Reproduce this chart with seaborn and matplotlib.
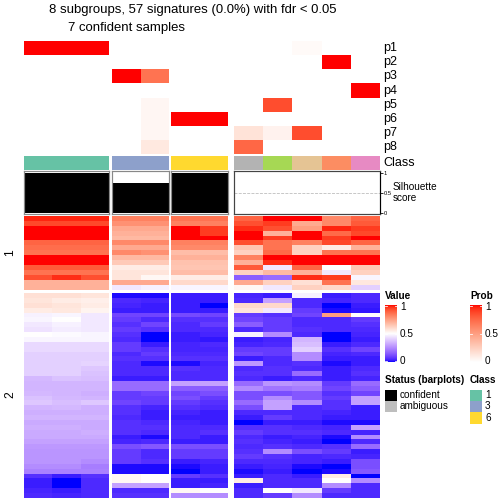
import numpy as np
import matplotlib
matplotlib.use('Agg')
import matplotlib.pyplot as plt
from matplotlib.colors import ListedColormap
import seaborn as sns

plt.rcParams['font.family'] = ['Liberation Sans', 'DejaVu Sans']

# ---- data ----
col_class = ['1', '1', '1', '3', '3', '6', '6', '8', '5', '7', '2', '4']
col_status = ['confident'] * 7 + ['ambiguous'] * 5
silhouette = [1.0, 1.0, 1.0, 0.75, 0.75, 1.0, 1.0, 0.0, 0.0, 0.0, 0.0, 0.0]
prob_labels = ['p1', 'p2', 'p3', 'p4', 'p5', 'p6', 'p7', 'p8']
prob = [
    [1, 1, 1, 0, 0, 0, 0, 0, 0, 0.03, 0, 0],
    [0, 0, 0, 0, 0, 0, 0, 0, 0, 0, 1, 0],
    [0, 0, 0, 1, 0.7, 0, 0, 0, 0, 0, 0, 0],
    [0, 0, 0, 0, 0, 0, 0, 0, 0, 0, 0, 1],
    [0, 0, 0, 0, 0.05, 0, 0, 0, 0.85, 0, 0, 0],
    [0, 0, 0, 0, 0.05, 1, 1, 0, 0, 0, 0, 0],
    [0, 0, 0, 0, 0.05, 0, 0, 0.15, 0.07, 0.85, 0, 0],
    [0, 0, 0, 0, 0.12, 0, 0, 0.75, 0, 0, 0, 0],
]
sig_group1 = [
    [0.98, 0.98, 0.98, 0.82, 0.82, 0.85, 0.85, 0.88, 1.00, 1.00, 0.80, 0.88],
    [0.93, 0.93, 0.93, 0.78, 0.78, 0.82, 0.82, 0.92, 0.95, 0.72, 0.80, 0.90],
    [1.00, 1.00, 1.00, 0.72, 0.72, 1.00, 0.95, 0.97, 0.92, 0.75, 0.98, 0.95],
    [1.00, 1.00, 1.00, 0.70, 0.70, 1.00, 0.95, 1.00, 0.70, 1.00, 0.87, 0.93],
    [1.00, 1.00, 1.00, 0.68, 0.68, 1.00, 1.00, 1.00, 0.95, 1.00, 0.95, 1.00],
    [0.88, 0.88, 0.88, 0.80, 0.80, 0.82, 0.82, 0.92, 0.85, 0.82, 0.93, 0.88],
    [0.86, 0.86, 0.86, 0.72, 0.72, 0.80, 0.80, 0.65, 0.85, 0.62, 0.55, 0.70],
    [0.85, 0.85, 0.85, 0.80, 0.78, 0.67, 0.67, 0.62, 0.87, 0.62, 0.85, 0.85],
    [1.00, 1.00, 1.00, 0.68, 0.68, 0.70, 0.70, 0.82, 1.00, 1.00, 1.00, 1.00],
    [1.00, 1.00, 1.00, 0.64, 0.64, 0.66, 0.66, 0.70, 0.97, 1.00, 1.00, 1.00],
    [0.90, 0.90, 0.90, 0.55, 0.55, 0.65, 0.65, 0.90, 0.45, 0.88, 0.50, 0.65],
    [0.85, 0.85, 0.85, 0.57, 0.57, 0.67, 0.67, 0.62, 0.68, 0.70, 0.45, 0.62],
    [0.92, 0.97, 0.92, 0.57, 0.52, 0.55, 0.55, 0.15, 0.18, 0.97, 0.95, 0.48],
    [0.70, 0.70, 0.70, 0.72, 0.72, 0.60, 0.60, 0.72, 0.62, 0.58, 0.85, 0.56],
    [0.70, 0.70, 0.70, 0.45, 0.47, 0.48, 0.48, 0.52, 0.45, 0.62, 0.60, 0.40],
]
sig_group2 = [
    [0.58, 0.58, 0.57, 0.01, 0.01, 0.03, 0.03, 0.04, 0.03, 0.47, 0.03, 0.05],
    [0.57, 0.55, 0.54, 0.05, 0.04, 0.03, 0.03, 0.05, 0.30, 0.05, 0.04, 0.05],
    [0.58, 0.57, 0.55, 0.04, 0.03, 0.03, 0.00, 0.60, 0.60, 0.05, 0.00, 0.03],
    [0.55, 0.56, 0.53, 0.03, 0.03, 0.03, 0.03, 0.57, 0.45, 0.08, 0.01, 0.02],
    [0.47, 0.48, 0.45, 0.10, 0.10, 0.11, 0.10, 0.08, 0.06, 0.10, 0.75, 0.50],
    [0.48, 0.50, 0.45, 0.08, 0.05, 0.06, 0.06, 0.10, 0.08, 0.05, 0.05, 0.08],
    [0.45, 0.47, 0.45, 0.06, 0.10, 0.05, 0.08, 0.15, 0.08, 0.05, 0.05, 0.06],
    [0.44, 0.46, 0.45, 0.08, 0.06, 0.05, 0.05, 0.05, 0.08, 0.06, 0.05, 0.05],
    [0.50, 0.49, 0.48, 0.06, 0.00, 0.03, 0.04, 0.47, 0.25, 0.05, 0.00, 0.04],
    [0.48, 0.48, 0.48, 0.05, 0.00, 0.03, 0.02, 0.03, 0.04, 0.34, 0.00, 0.03],
    [0.42, 0.42, 0.42, 0.08, 0.03, 0.04, 0.05, 0.04, 0.05, 0.36, 0.03, 0.05],
    [0.42, 0.42, 0.42, 0.08, 0.06, 0.04, 0.04, 0.08, 0.08, 0.40, 0.06, 0.10],
    [0.40, 0.40, 0.40, 0.05, 0.08, 0.05, 0.05, 0.10, 0.08, 0.25, 0.04, 0.05],
    [0.40, 0.40, 0.40, 0.06, 0.06, 0.06, 0.06, 0.03, 0.05, 0.25, 0.03, 0.03],
    [0.40, 0.40, 0.41, 0.05, 0.01, 0.01, 0.04, 0.28, 0.05, 0.06, 0.01, 0.03],
    [0.40, 0.40, 0.38, 0.05, 0.05, 0.06, 0.05, 0.05, 0.06, 0.05, 0.03, 0.05],
    [0.40, 0.40, 0.37, 0.05, 0.05, 0.05, 0.05, 0.06, 0.06, 0.18, 0.03, 0.06],
    [0.35, 0.37, 0.36, 0.03, 0.03, 0.05, 0.05, 0.05, 0.03, 0.05, 0.03, 0.04],
    [0.34, 0.34, 0.34, 0.18, 0.18, 0.30, 0.30, 0.18, 0.27, 0.25, 0.08, 0.18],
    [0.34, 0.34, 0.34, 0.18, 0.18, 0.15, 0.15, 0.25, 0.20, 0.22, 0.10, 0.15],
    [0.35, 0.34, 0.33, 0.08, 0.10, 0.10, 0.12, 0.12, 0.12, 0.14, 0.06, 0.10],
    [0.37, 0.35, 0.34, 0.08, 0.08, 0.12, 0.08, 0.12, 0.25, 0.14, 0.08, 0.30],
    [0.38, 0.36, 0.38, 0.10, 0.08, 0.08, 0.06, 0.18, 0.30, 0.25, 0.06, 0.30],
    [0.34, 0.35, 0.33, 0.06, 0.04, 0.06, 0.05, 0.12, 0.30, 0.05, 0.06, 0.03],
    [0.33, 0.33, 0.33, 0.06, 0.03, 0.04, 0.03, 0.05, 0.05, 0.05, 0.04, 0.03],
    [0.34, 0.34, 0.34, 0.05, 0.03, 0.03, 0.03, 0.03, 0.08, 0.05, 0.03, 0.03],
    [0.32, 0.32, 0.32, 0.06, 0.05, 0.04, 0.03, 0.00, 0.03, 0.03, 0.01, 0.01],
    [0.33, 0.33, 0.32, 0.06, 0.06, 0.05, 0.05, 0.06, 0.06, 0.05, 0.04, 0.30],
    [0.32, 0.32, 0.33, 0.06, 0.05, 0.05, 0.06, 0.08, 0.06, 0.06, 0.05, 0.04],
    [0.32, 0.32, 0.32, 0.03, 0.01, 0.05, 0.03, 0.05, 0.03, 0.04, 0.01, 0.25],
    [0.30, 0.30, 0.30, 0.04, 0.05, 0.03, 0.03, 0.06, 0.04, 0.03, 0.00, 0.05],
    [0.28, 0.28, 0.28, 0.12, 0.14, 0.12, 0.12, 0.05, 0.06, 0.05, 0.06, 0.18],
    [0.27, 0.27, 0.27, 0.08, 0.05, 0.08, 0.08, 0.06, 0.25, 0.12, 0.08, 0.03],
    [0.27, 0.27, 0.27, 0.08, 0.05, 0.08, 0.08, 0.08, 0.06, 0.04, 0.05, 0.04],
    [0.27, 0.27, 0.25, 0.08, 0.06, 0.03, 0.04, 0.05, 0.05, 0.04, 0.03, 0.12],
    [0.25, 0.25, 0.22, 0.01, 0.01, 0.01, 0.03, 0.03, 0.04, 0.01, 0.00, 0.12],
    [0.23, 0.23, 0.23, 0.01, 0.01, 0.00, 0.03, 0.01, 0.03, 0.00, 0.01, 0.14],
    [0.06, 0.03, 0.06, 0.52, 0.50, 0.08, 0.06, 0.03, 0.05, 0.03, 0.55, 0.00],
    [0.03, 0.00, 0.05, 0.52, 0.50, 0.03, 0.03, 0.55, 0.05, 0.05, 0.50, 0.25],
    [0.03, 0.00, 0.05, 0.30, 0.30, 0.03, 0.04, 0.03, 0.05, 0.05, 0.25, 0.05],
    [0.04, 0.03, 0.05, 0.05, 0.05, 0.52, 0.50, 0.05, 0.50, 0.45, 0.08, 0.05],
    [0.05, 0.04, 0.05, 0.06, 0.06, 0.25, 0.25, 0.05, 0.08, 0.25, 0.05, 0.05],
]
legend_classes = ['1', '3', '6']

# ---- colour ramps in LAB space (like circlize::colorRamp2) ----
M = np.array([[0.4124, 0.3576, 0.1805], [0.2126, 0.7152, 0.0722], [0.0193, 0.1192, 0.9505]])
WHITE = np.array([0.95047, 1.0, 1.08883])


def to_lab(hexcol):
    c = np.array(matplotlib.colors.to_rgb(hexcol))
    lin = np.where(c <= 0.04045, c / 12.92, ((c + 0.055) / 1.055) ** 2.4)
    xyz = M @ lin / WHITE
    f = np.where(xyz > 0.008856, np.cbrt(xyz), 7.787 * xyz + 16 / 116)
    return np.array([116 * f[1] - 16, 500 * (f[0] - f[1]), 200 * (f[1] - f[2])])


def from_lab(lab):
    fy = (lab[0] + 16) / 116
    f = np.array([fy + lab[1] / 500, fy, fy - lab[2] / 200])
    xyz = np.where(f ** 3 > 0.008856, f ** 3, (f - 16 / 116) / 7.787) * WHITE
    lin = np.clip(np.linalg.solve(M, xyz), 0, 1)
    c = np.where(lin <= 0.0031308, 12.92 * lin, 1.055 * lin ** (1 / 2.4) - 0.055)
    return np.clip(c, 0, 1)


def lab_cmap(colors, n=256):
    labs = [to_lab(c) for c in colors]
    out = []
    for t in np.linspace(0, 1, n):
        pos = t * (len(labs) - 1)
        i = min(int(pos), len(labs) - 2)
        w = pos - i
        out.append(from_lab(labs[i] * (1 - w) + labs[i + 1] * w))
    return ListedColormap(out)


value_cmap = lab_cmap(['#0000FF', '#FFFFFF', '#FF0000'])
prob_cmap = lab_cmap(['#FFFFFF', '#FF0000'])
class_colors = dict(zip([str(i) for i in range(1, 9)], sns.color_palette('Set2', 8).as_hex()))
status_colors = {'confident': 'black', 'ambiguous': '#BEBEBE'}

# ---- layout (pixels) ----
W = H = 504
fig = plt.figure(figsize=(7, 7), dpi=72)


def px_axes(x0, y0, x1, y1):
    return fig.add_axes([x0 / W, 1 - y1 / H, (x1 - x0) / W, (y1 - y0) / H])


def px_text(x, y, s, **kw):
    fig.text(x / W, 1 - y / H, s, **kw)


groups = [(0, 3, 24, 109), (3, 5, 112, 169), (5, 7, 171, 228), (7, 12, 234, 380)]
prob_arr = np.array(prob)
sig1 = np.array(sig_group1)
sig2 = np.array(sig_group2)

for gi, (c0, c1, x0, x1) in enumerate(groups):
    # probability rows
    ax = px_axes(x0, 41, x1, 154.3)
    sns.heatmap(prob_arr[:, c0:c1], ax=ax, cmap=prob_cmap, vmin=0, vmax=1, cbar=False,
                xticklabels=False, yticklabels=False)
    ax.axis('off')

    # class bar
    ax = px_axes(x0, 156.3, x1, 169.7)
    codes = np.array([[int(c) - 1 for c in col_class[c0:c1]]])
    sns.heatmap(codes, ax=ax, cmap=ListedColormap(list(class_colors.values())), vmin=-0.5, vmax=7.5,
                cbar=False, xticklabels=False, yticklabels=False)
    ax.axis('off')

    # silhouette barplot
    ax = px_axes(x0, 171, x1, 214)
    ax.axhline(0.5, color='#BBBBBB', linestyle='--', linewidth=0.8, zorder=0)
    ax.bar(np.arange(c1 - c0), silhouette[c0:c1], width=1.0,
           color=[status_colors[s] for s in col_status[c0:c1]], zorder=1)
    ax.set_xlim(-0.5, c1 - c0 - 0.5)
    ax.set_ylim(-0.03, 1.04)
    ax.set_xticks([])
    ax.set_yticks([])
    edge = '#444444' if gi == 3 else '#888888'
    for sp in ax.spines.values():
        sp.set_color(edge)
        sp.set_linewidth(1.2)
    if gi == 3:
        ax.yaxis.tick_right()
        ax.set_yticks([0, 0.5, 1])
        ax.set_yticklabels(['0', '0.5', '1'])
        ax.tick_params(axis='y', labelsize=5.8, length=2.5, pad=1.5, colors='black')
        ax.spines['right'].set_color('black')

    # main heatmap blocks
    for data, (y0, y1) in [(sig1, (216, 289.5)), (sig2, (293, 498))]:
        ax = px_axes(x0, y0, x1, y1)
        sns.heatmap(data[:, c0:c1], ax=ax, cmap=value_cmap, vmin=0, vmax=1, cbar=False,
                    xticklabels=False, yticklabels=False)
        ax.axis('off')

# ---- labels ----
row_h = (154.3 - 41) / len(prob_labels)
for i, lab in enumerate(prob_labels):
    px_text(383, 41 + row_h * (i + 0.5), lab, fontsize=12.5, va='center', ha='left')
px_text(383, 163, 'Class', fontsize=12.5, va='center', ha='left')
px_text(393, 190, 'Silhouette', fontsize=10, va='baseline', ha='left')
px_text(393, 201, 'score', fontsize=10, va='baseline', ha='left')

px_text(10, 253, '1', fontsize=12, rotation=90, va='center', ha='center')
px_text(10, 395, '2', fontsize=12, rotation=90, va='center', ha='center')

px_text(193, 10, '8 subgroups, 57 signatures (0.0%) with fdr < 0.05', fontsize=13.1,
        ha='center', va='center')
px_text(126, 28, '7 confident samples', fontsize=13.1, ha='center', va='center')


# ---- legends ----
def color_legend(x, title, cmap):
    px_text(x, 296, title, fontsize=10, fontweight='bold', ha='left', va='center')
    ax = px_axes(x, 305, x + 11.7, 362)
    ax.imshow(np.linspace(0, 1, 256).reshape(-1, 1), cmap=cmap, aspect='auto', origin='lower',
              extent=[0, 1, 0, 1])
    for v in [0.02, 0.5, 0.98]:
        ax.plot([0, 0.18], [v, v], color='white', lw=0.8)
        ax.plot([0.82, 1], [v, v], color='white', lw=0.8)
    ax.set_xlim(0, 1)
    ax.set_ylim(0, 1)
    ax.axis('off')
    for v, s in [(1, '1'), (0.5, '0.5'), (0, '0')]:
        px_text(x + 15, 361 - v * 54, s, fontsize=10, ha='left', va='center')


color_legend(385, 'Value', value_cmap)
color_legend(470, 'Prob', prob_cmap)

px_text(385, 380, 'Status (barplots)', fontsize=10, fontweight='bold', ha='left', va='center')
for i, (name, col) in enumerate(status_colors.items()):
    ax = px_axes(385, 389.5 + i * 11.4, 396.7, 400.7 + i * 11.4)
    ax.set_facecolor(col)
    ax.set_xticks([])
    ax.set_yticks([])
    for sp in ax.spines.values():
        sp.set_visible(False)
    px_text(400, 395 + i * 11.4, name, fontsize=10, ha='left', va='center')

px_text(470, 380, 'Class', fontsize=10, fontweight='bold', ha='left', va='center')
for i, cl in enumerate(legend_classes):
    ax = px_axes(470, 389.5 + i * 11.4, 481.7, 400.7 + i * 11.4)
    ax.set_facecolor(class_colors[cl])
    ax.set_xticks([])
    ax.set_yticks([])
    for sp in ax.spines.values():
        sp.set_visible(False)
    px_text(485, 395 + i * 11.4, cl, fontsize=10, ha='left', va='center')

fig.savefig('out.png', dpi=72, facecolor='white')
plt.close(fig)
